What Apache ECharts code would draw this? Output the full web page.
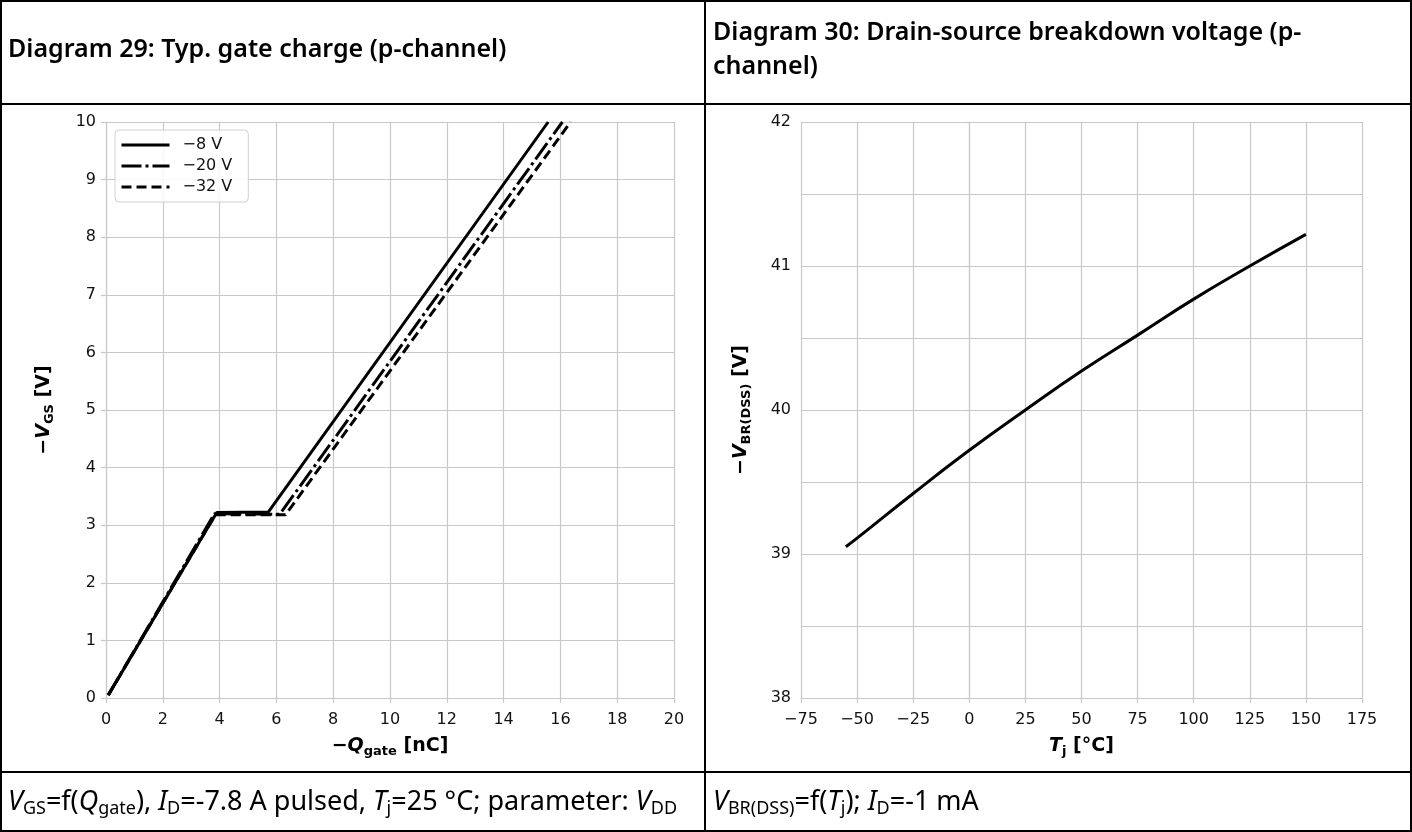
<!DOCTYPE html>
<html><head><meta charset="utf-8">
<script src="https://cdn.jsdelivr.net/npm/echarts@6/dist/echarts.min.js"></script>
<style>html,body{margin:0;padding:0;background:#fff}#c{width:1412px;height:832px}</style>
</head><body><div id="c"></div>
<script>
// ---- data ----
const legendNames = ['\u22128 V', '\u221220 V', '\u221232 V'];
const gate8V  = [[0.08, 0.05], [3.90, 3.22], [5.72, 3.23], [15.57, 10.0]];
const gate20V = [[0.08, 0.05], [3.82, 3.20], [6.12, 3.19], [16.07, 10.0]];
const gate32V = [[0.08, 0.05], [3.85, 3.18], [6.32, 3.18], [16.36, 10.0]];
const tempC = [-55, -50, -25, 0, 25, 50, 75, 100, 125, 150];
const vbrDss = [39.05, 39.11, 39.42, 39.72, 40.00, 40.27, 40.52, 40.77, 41.00, 41.22];
const titles = ['Diagram 29: Typ. gate charge (p-channel)', 'Diagram 30: Drain-source breakdown voltage (p-', 'channel)'];

const GRID = '#c8c8c8';
const TICKFONT = {fontFamily: 'DejaVu Sans', fontSize: 16, color: '#111'};
const nameRich = {
  b: {fontFamily: 'DejaVu Sans', fontWeight: 'bold', fontSize: 19, color: '#000'},
  bi: {fontFamily: 'DejaVu Sans', fontWeight: 'bold', fontStyle: 'italic', fontSize: 19, color: '#000'},
  s: {fontFamily: 'DejaVu Sans', fontWeight: 'bold', fontSize: 13, color: '#000', padding: [10, 0, 0, 0]}
};
function axisCommon(margin) {
  return {
    axisLine: {show: true, lineStyle: {color: GRID, width: 1.2}},
    axisTick: {show: true, length: 5, lineStyle: {color: GRID, width: 1.2}},
    splitLine: {show: true, lineStyle: {color: GRID, width: 1.2}},
    axisLabel: Object.assign({margin: margin}, TICKFONT)
  };
}
const footRich = {
  n: {fontFamily: 'Noto Sans', fontSize: 27, color: '#000'},
  i: {fontFamily: 'Noto Sans', fontStyle: 'italic', fontSize: 27, color: '#000'},
  s: {fontFamily: 'Noto Sans', fontSize: 18, color: '#000', padding: [13, 0, 0, 0]}
};
const minusFmt = v => String(v).replace('-', '\u2212');

const chart = echarts.init(document.getElementById('c'), null, {renderer: 'canvas'});
chart.setOption({
  animation: false,
  backgroundColor: '#fff',
  grid: [
    {left: 106, top: 122, width: 568, height: 576},
    {left: 801, top: 122, width: 561, height: 576}
  ],
  xAxis: [
    Object.assign(axisCommon(14), {type: 'value', gridIndex: 0, min: 0, max: 20, interval: 2,
      name: '{b|\u2212}{bi|Q}{s|gate}{b| [nC]}', nameLocation: 'middle', nameGap: 37,
      nameTextStyle: {rich: nameRich}}),
    Object.assign(axisCommon(14), {type: 'value', gridIndex: 1, min: -75, max: 175, interval: 25,
      axisLabel: Object.assign({margin: 14, formatter: minusFmt}, TICKFONT),
      name: '{bi|T}{s|j}{b| [\u00b0C]}', nameLocation: 'middle', nameGap: 37,
      nameTextStyle: {rich: nameRich}})
  ],
  yAxis: [
    Object.assign(axisCommon(10), {type: 'value', gridIndex: 0, min: 0, max: 10, interval: 1,
      name: '{b|\u2212}{bi|V}{s|GS}{b| [V]}', nameLocation: 'middle', nameGap: 50, nameRotate: 90,
      nameTextStyle: {rich: nameRich}}),
    Object.assign(axisCommon(10), {type: 'value', gridIndex: 1, min: 38, max: 42, interval: 1,
      minorTick: {show: false, splitNumber: 2},
      minorSplitLine: {show: true, lineStyle: {color: GRID, width: 1.2}},
      name: '{b|\u2212}{bi|V}{s|BR(DSS)}{b| [V]}', nameLocation: 'middle', nameGap: 48, nameRotate: 90,
      nameTextStyle: {rich: nameRich}})
  ],
  legend: {
    data: legendNames, orient: 'vertical', left: 115, top: 130,
    itemWidth: 48, itemHeight: 16, itemGap: 5,
    padding: [7, 16, 7, 5],
    borderColor: '#d0d0d0', borderWidth: 1, borderRadius: 4,
    backgroundColor: 'rgba(255,255,255,0.85)',
    itemStyle: {opacity: 0},
    lineStyle: {width: 3},
    textStyle: {fontFamily: 'DejaVu Sans', fontSize: 16, color: '#111', padding: [0, 0, 0, 8]}
  },
  series: [
    {name: legendNames[0], type: 'line', xAxisIndex: 0, yAxisIndex: 0, data: gate8V, symbol: 'none',
      lineStyle: {color: '#000', width: 3, type: 'solid'}, itemStyle: {color: '#000'}, z: 5},
    {name: legendNames[1], type: 'line', xAxisIndex: 0, yAxisIndex: 0, data: gate20V, symbol: 'none',
      lineStyle: {color: '#000', width: 3, type: [20, 4, 3, 4]}, itemStyle: {color: '#000'}, z: 4},
    {name: legendNames[2], type: 'line', xAxisIndex: 0, yAxisIndex: 0, data: gate32V, symbol: 'none',
      lineStyle: {color: '#000', width: 3, type: [10, 5]}, itemStyle: {color: '#000'}, z: 3},
    {name: 'vbr', type: 'line', xAxisIndex: 1, yAxisIndex: 1, data: tempC.map((t, i) => [t, vbrDss[i]]),
      symbol: 'none', smooth: true, lineStyle: {color: '#000', width: 3}, itemStyle: {color: '#000'}}
  ],
  graphic: [
    {type: 'rect', silent: true, shape: {x: 1, y: 1, width: 1410, height: 830}, style: {fill: null, stroke: '#000', lineWidth: 2}},
    {type: 'line', silent: true, shape: {x1: 705, y1: 0, x2: 705, y2: 832}, style: {stroke: '#000', lineWidth: 2}},
    {type: 'line', silent: true, shape: {x1: 0, y1: 104, x2: 1412, y2: 104}, style: {stroke: '#000', lineWidth: 2}},
    {type: 'line', silent: true, shape: {x1: 0, y1: 772, x2: 1412, y2: 772}, style: {stroke: '#000', lineWidth: 2}},
    {type: 'text', silent: true, x: 8, y: 50, style: {text: titles[0], fontFamily: 'Noto Sans', fontWeight: 600, fontSize: 25, fill: '#000', verticalAlign: 'middle'}},
    {type: 'text', silent: true, x: 713, y: 33, style: {text: titles[1], fontFamily: 'Noto Sans', fontWeight: 600, fontSize: 25, fill: '#000', verticalAlign: 'middle'}},
    {type: 'text', silent: true, x: 713, y: 67, style: {text: titles[2], fontFamily: 'Noto Sans', fontWeight: 600, fontSize: 25, fill: '#000', verticalAlign: 'middle'}},
    {type: 'text', silent: true, x: 8, y: 802, style: {
      text: '{i|V}{s|GS}{n|=f(}{i|Q}{s|gate}{n|), }{i|I}{s|D}{n|=-7.8 A pulsed, }{i|T}{s|j}{n|=25 \u00b0C; parameter: }{i|V}{s|DD}',
      rich: footRich, verticalAlign: 'middle'}},
    {type: 'text', silent: true, x: 713, y: 802, style: {
      text: '{i|V}{s|BR(DSS)}{n|=f(}{i|T}{s|j}{n|); }{i|I}{s|D}{n|=-1 mA}',
      rich: footRich, verticalAlign: 'middle'}}
  ]
});
</script>
</body></html>
